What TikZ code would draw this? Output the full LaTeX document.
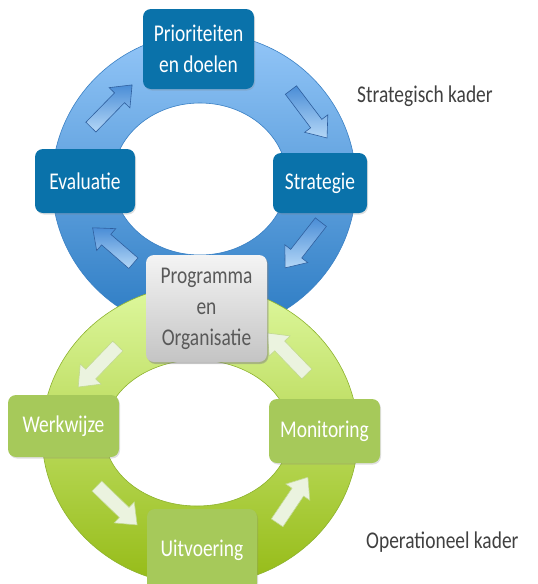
\documentclass[tikz,border=0pt]{standalone}
\usepackage{fontspec}
\setmainfont[FakeStretch=0.81]{Carlito}
\usetikzlibrary{shadows}
\definecolor{boxblue}{HTML}{0A72AA}
\definecolor{ringbluetop}{HTML}{93C6F8}
\definecolor{ringbluebot}{HTML}{2A7AC2}
\definecolor{ringblueline}{HTML}{3A80C4}
\definecolor{arrbluelight}{HTML}{B4D7F7}
\definecolor{arrbluedark}{HTML}{4A8DD6}
\definecolor{arrblueline}{HTML}{2F5F9E}
\definecolor{ringgreentop}{HTML}{DEF89E}
\definecolor{ringgreenbot}{HTML}{95BB16}
\definecolor{ringgreenline}{HTML}{8DB22E}
\definecolor{boxgreen}{HTML}{A6C95A}
\definecolor{arrgreenfill}{HTML}{EBF3DF}
\definecolor{arrgreenline}{HTML}{C2D991}
\definecolor{graytop}{HTML}{F4F4F4}
\definecolor{graybot}{HTML}{C4C4C4}
\definecolor{graytext}{HTML}{595959}
\definecolor{labeltext}{HTML}{404040}
\newcommand\blockarr[5]{%
  \path[#5, shift={(#1,#2)}, rotate=#3]
    (-#4/2,-7) -- (#4/2-18,-7) -- (#4/2-18,-14.5) -- (#4/2,0)
    -- (#4/2-18,14.5) -- (#4/2-18,7) -- (-#4/2,7) -- cycle;}
\tikzset{
  boxbase/.style={rounded corners=8pt, align=center, inner sep=0pt,
    drop shadow={opacity=0.25, shadow xshift=1pt, shadow yshift=-1.5pt}},
  bluebox/.style={boxbase, fill=boxblue, text=white},
  greenbox/.style={boxbase, fill=boxgreen, text=white},
  graybox/.style={boxbase, top color=graytop, bottom color=graybot, text=graytext,
    drop shadow={opacity=0.35, shadow xshift=1.5pt, shadow yshift=-2pt}},
  bluearrow/.style={draw=arrblueline, line width=0.6pt, left color=arrbluedark, right color=arrbluelight, shading angle=0},
  greenarrow/.style={draw=arrgreenline, line width=0.6pt, fill=arrgreenfill},
  sidelabel/.style={text=labeltext, inner sep=0pt, anchor=base west}
}
\begin{document}
\begin{tikzpicture}[x=1pt,y=-1pt, font=\fontsize{24}{31}\selectfont]
\useasboundingbox (0,0) rectangle (538,584);
% blue ring
\path[draw=ringblueline, line width=0.6pt, top color=ringbluetop, bottom color=ringbluebot, even odd rule]
  (204,183) ellipse [x radius=152, y radius=150] (200,179) ellipse [x radius=87, y radius=76];
% blue arrows
\blockarr{111.5}{106}{45.7}{59}{bluearrow}
\blockarr{309}{114}{-53}{60}{bluearrow}
\blockarr{303}{245}{-128}{58}{bluearrow}
\blockarr{113}{245.5}{139}{54}{bluearrow}
% blue boxes
\node[bluebox, minimum width=111, minimum height=80] (prio) at (198.5,49) {Prioriteiten\\en doelen};
\node[bluebox, minimum width=100, minimum height=64] (eval) at (85,181) {Evaluatie};
\node[bluebox, minimum width=94, minimum height=60] (strat) at (320,183) {Strategie};
% green ring
\path[draw=ringgreenline, line width=0.6pt, top color=ringgreentop, bottom color=ringgreenbot, even odd rule]
  (200,435) ellipse [x radius=158, y radius=150] (197,433) ellipse [x radius=93, y radius=73];
% green arrows
\blockarr{98}{366.5}{-134}{57}{greenarrow}
\blockarr{117}{505.5}{-44}{56}{greenarrow}
\blockarr{292.5}{500}{56}{55}{greenarrow}
\blockarr{287}{353.5}{134}{57}{greenarrow}
% green boxes
\node[greenbox, minimum width=111, minimum height=62] (werk) at (63.5,426) {Werkwijze};
\node[greenbox, minimum width=111, minimum height=64] (moni) at (324.5,431) {Monitoring};
\node[greenbox, minimum width=110, minimum height=82] (uitv) at (202,550) {Uitvoering};
% central box
\node[graybox, minimum width=121, minimum height=107] (prog) at (206.5,308.5) {Programma\\en\\Organisatie};
% labels
\node[sidelabel] (strk) at (357,102) {Strategisch kader};
\node[sidelabel] (opk) at (366,548) {Operationeel kader};
\end{tikzpicture}
\end{document}
